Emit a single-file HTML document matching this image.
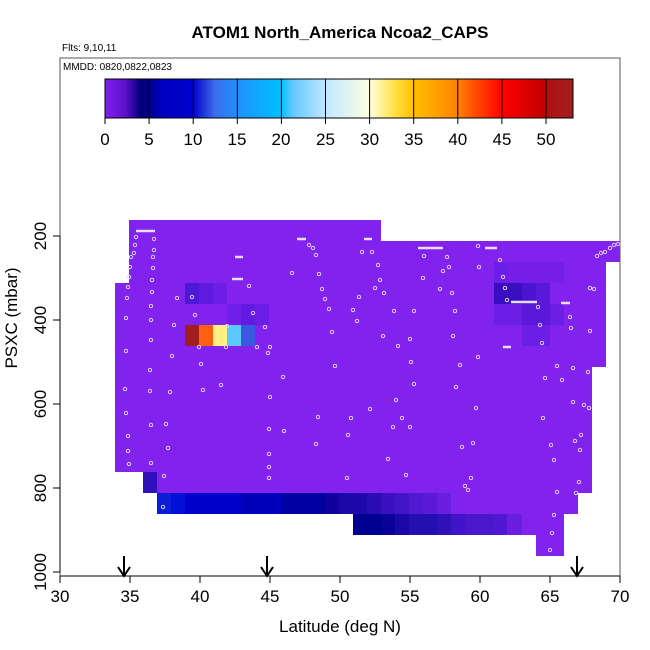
<!DOCTYPE html>
<html><head><meta charset="utf-8"><style>
html,body{margin:0;padding:0;background:#fff}
svg{display:block;font-family:"Liberation Sans",sans-serif}
</style></head><body>
<svg width="650" height="650" viewBox="0 0 650 650" xmlns="http://www.w3.org/2000/svg">
<defs>
<linearGradient id="cb" x1="105" x2="573" y1="0" y2="0" gradientUnits="userSpaceOnUse">
<stop offset="0" stop-color="#8020ee"/>
<stop offset="0.045" stop-color="#5a10c8"/>
<stop offset="0.075" stop-color="#00007a"/>
<stop offset="0.1" stop-color="#000090"/>
<stop offset="0.12" stop-color="#0000c0"/>
<stop offset="0.188" stop-color="#0000d0"/>
<stop offset="0.235" stop-color="#3c6ee8"/>
<stop offset="0.282" stop-color="#1e90ff"/>
<stop offset="0.376" stop-color="#00bfff"/>
<stop offset="0.4" stop-color="#60c8ff"/>
<stop offset="0.472" stop-color="#c0e8ff"/>
<stop offset="0.566" stop-color="#ffffe0"/>
<stop offset="0.62" stop-color="#ffe040"/>
<stop offset="0.66" stop-color="#ffc000"/>
<stop offset="0.755" stop-color="#ff8000"/>
<stop offset="0.8" stop-color="#ff4000"/>
<stop offset="0.85" stop-color="#ff0000"/>
<stop offset="0.94" stop-color="#c00000"/>
<stop offset="0.943" stop-color="#b01010"/>
<stop offset="1" stop-color="#a02020"/>
</linearGradient>
</defs>
<text x="340" y="38" font-size="17" font-weight="bold" text-anchor="middle">ATOM1 North_America Ncoa2_CAPS</text>
<text x="62" y="51" font-size="10">Flts: 9,10,11</text>
<rect x="60" y="58" width="560" height="518" fill="none" stroke="#555" stroke-width="1"/>
<text x="63" y="70" font-size="10">MMDD: 0820,0822,0823</text>
<rect x="105" y="79" width="468" height="39" fill="url(#cb)" stroke="#000" stroke-width="1"/>
<g stroke="#000" stroke-width="1">
<line x1="149.1" y1="79" x2="149.1" y2="124"/><line x1="193.2" y1="79" x2="193.2" y2="124"/><line x1="237.3" y1="79" x2="237.3" y2="124"/><line x1="281.4" y1="79" x2="281.4" y2="124"/><line x1="325.5" y1="79" x2="325.5" y2="124"/><line x1="369.6" y1="79" x2="369.6" y2="124"/><line x1="413.7" y1="79" x2="413.7" y2="124"/><line x1="457.8" y1="79" x2="457.8" y2="124"/><line x1="501.9" y1="79" x2="501.9" y2="124"/><line x1="546" y1="79" x2="546" y2="124"/><line x1="105" y1="118" x2="105" y2="124"/>
</g>
<g font-size="17" text-anchor="middle">
<text x="105" y="145">0</text><text x="149" y="145">5</text><text x="193" y="145">10</text><text x="237" y="145">15</text><text x="281" y="145">20</text><text x="325.5" y="145">25</text><text x="369.6" y="145">30</text><text x="413.7" y="145">35</text><text x="457.8" y="145">40</text><text x="502" y="145">45</text><text x="546" y="145">50</text>
</g>
<!-- main field -->
<path fill="#8222ed" d="M129,220 H381 V241 H620 V262 H606 V367 H592 V493 H578 V514 H564 V556 H536 V535 H353 V514 H157 V493 H143 V472 H115 V283 H129 Z"/>
<g shape-rendering="crispEdges">
<rect x="185" y="283" width="14" height="21" fill="#4c18d4"/><rect x="199" y="283" width="14" height="21" fill="#5e1ade"/><rect x="213" y="283" width="14" height="21" fill="#6c1ee6"/>
<rect x="227" y="304" width="14" height="21" fill="#701ee8"/><rect x="241" y="304" width="14" height="21" fill="#621ae0"/><rect x="255" y="304" width="14" height="21" fill="#6c1ee6"/>
<rect x="185" y="325" width="14" height="21" fill="#a01e1e"/><rect x="199" y="325" width="14" height="21" fill="#ff6010"/><rect x="213" y="325" width="14" height="21" fill="#fff080"/><rect x="227" y="325" width="14" height="21" fill="#5bc8ff"/><rect x="241" y="325" width="14" height="21" fill="#3a58e0"/>
<rect x="143" y="472" width="14" height="21" fill="#3010b8"/>
<rect x="157" y="493" width="14" height="21" fill="#0a1ed8"/><rect x="171" y="493" width="14" height="21" fill="#0010d8"/><rect x="185" y="493" width="56" height="21" fill="#0000cc"/><rect x="241" y="493" width="42" height="21" fill="#0000b8"/><rect x="283" y="493" width="42" height="21" fill="#0000a0"/><rect x="325" y="493" width="14" height="21" fill="#10009c"/><rect x="339" y="493" width="14" height="21" fill="#1a08a8"/><rect x="353" y="493" width="14" height="21" fill="#2008a8"/><rect x="367" y="493" width="14" height="21" fill="#2a0cb4"/><rect x="381" y="493" width="14" height="21" fill="#3a10c0"/><rect x="395" y="493" width="14" height="21" fill="#4414c8"/><rect x="409" y="493" width="14" height="21" fill="#5018d0"/><rect x="423" y="493" width="14" height="21" fill="#5c1ad8"/><rect x="437" y="493" width="14" height="21" fill="#6a1ee0"/>
<rect x="353" y="514" width="28" height="21" fill="#000090"/><rect x="381" y="514" width="14" height="21" fill="#0a0098"/><rect x="395" y="514" width="14" height="21" fill="#1a08a8"/><rect x="409" y="514" width="28" height="21" fill="#2410b0"/><rect x="437" y="514" width="14" height="21" fill="#3010b8"/><rect x="451" y="514" width="14" height="21" fill="#4014c8"/><rect x="465" y="514" width="28" height="21" fill="#4a18cc"/><rect x="493" y="514" width="14" height="21" fill="#5018d0"/><rect x="507" y="514" width="15" height="21" fill="#6a1ee0"/>
<rect x="494" y="262" width="14" height="21" fill="#6a1ee6"/><rect x="508" y="262" width="56" height="21" fill="#761ee8"/>
<rect x="494" y="283" width="14" height="21" fill="#3a0ec0"/><rect x="508" y="283" width="14" height="21" fill="#3810c0"/><rect x="522" y="283" width="14" height="21" fill="#4a14d0"/><rect x="536" y="283" width="14" height="21" fill="#5a18d8"/>
<rect x="494" y="304" width="28" height="21" fill="#6a1ee6"/><rect x="522" y="304" width="28" height="21" fill="#5a18d8"/><rect x="550" y="304" width="14" height="21" fill="#6a1ee6"/>
<rect x="522" y="325" width="28" height="21" fill="#6a1ee6"/>
</g>
<!-- sample points -->
<g fill="none" stroke="#e8dcff" stroke-width="0.9">
<line x1="136" y1="231" x2="155" y2="231" stroke-width="2.5"/><line x1="232" y1="279" x2="243" y2="279" stroke-width="2.5"/><line x1="418" y1="248" x2="443" y2="248" stroke-width="2.5"/><line x1="485" y1="248" x2="497" y2="248" stroke-width="2.5"/><line x1="511" y1="302" x2="537" y2="302" stroke-width="2.5"/><line x1="561" y1="303" x2="570" y2="303" stroke-width="2.5"/><line x1="297" y1="239" x2="306" y2="239" stroke-width="2.5"/><line x1="364" y1="239" x2="372" y2="239" stroke-width="2.5"/><line x1="235" y1="257" x2="243" y2="257" stroke-width="2.5"/><line x1="503" y1="347" x2="511" y2="347" stroke-width="2.5"/>
<circle cx="136" cy="237" r="1.7"/><circle cx="135" cy="245" r="1.7"/><circle cx="134" cy="253" r="1.7"/><circle cx="131" cy="257" r="1.7"/><circle cx="130" cy="267" r="1.7"/><circle cx="129" cy="277" r="1.7"/><circle cx="128" cy="287" r="1.7"/><circle cx="127" cy="298" r="1.7"/><circle cx="126" cy="318" r="1.7"/><circle cx="126" cy="351" r="1.7"/><circle cx="125" cy="389" r="1.7"/><circle cx="126" cy="413" r="1.7"/><circle cx="128" cy="436" r="1.7"/><circle cx="128" cy="451" r="1.7"/><circle cx="129" cy="464" r="1.7"/>
<circle cx="154" cy="239" r="1.7"/><circle cx="154" cy="250" r="1.7"/><circle cx="153" cy="257" r="1.7"/><circle cx="153" cy="268" r="1.7"/><circle cx="152" cy="280" r="1.7"/><circle cx="152" cy="292" r="1.7"/><circle cx="151" cy="306" r="1.7"/><circle cx="151" cy="320" r="1.7"/><circle cx="151" cy="340" r="1.7"/><circle cx="150" cy="370" r="1.7"/><circle cx="150" cy="391" r="1.7"/><circle cx="151" cy="425" r="1.7"/><circle cx="151" cy="463" r="1.7"/><circle cx="164" cy="476" r="1.7"/><circle cx="163" cy="507" r="1.7"/>
<circle cx="177" cy="298" r="1.7"/><circle cx="174" cy="325" r="1.7"/><circle cx="172" cy="356" r="1.7"/><circle cx="170" cy="392" r="1.7"/><circle cx="168" cy="448" r="1.7"/><circle cx="166" cy="424" r="1.7"/><circle cx="192" cy="297" r="1.7"/><circle cx="195" cy="315" r="1.7"/><circle cx="199" cy="347" r="1.7"/><circle cx="201" cy="364" r="1.7"/><circle cx="203" cy="390" r="1.7"/><circle cx="221" cy="385" r="1.7"/><circle cx="227" cy="326" r="1.7"/><circle cx="226" cy="347" r="1.7"/><circle cx="249" cy="286" r="1.7"/><circle cx="257" cy="347" r="1.7"/><circle cx="253" cy="313" r="1.7"/><circle cx="265" cy="327" r="1.7"/><circle cx="270" cy="347" r="1.7"/><circle cx="268" cy="353" r="1.7"/><circle cx="270" cy="397" r="1.7"/><circle cx="269" cy="429" r="1.7"/><circle cx="269" cy="454" r="1.7"/><circle cx="269" cy="467" r="1.7"/><circle cx="269" cy="478" r="1.7"/><circle cx="283" cy="377" r="1.7"/><circle cx="284" cy="431" r="1.7"/>
<circle cx="309" cy="245" r="1.7"/><circle cx="313" cy="248" r="1.7"/><circle cx="316" cy="255" r="1.7"/><circle cx="292" cy="273" r="1.7"/><circle cx="319" cy="274" r="1.7"/><circle cx="322" cy="289" r="1.7"/><circle cx="325" cy="299" r="1.7"/><circle cx="329" cy="309" r="1.7"/><circle cx="332" cy="332" r="1.7"/><circle cx="335" cy="366" r="1.7"/><circle cx="318" cy="417" r="1.7"/><circle cx="316" cy="444" r="1.7"/><circle cx="348" cy="435" r="1.7"/><circle cx="347" cy="478" r="1.7"/><circle cx="353" cy="310" r="1.7"/><circle cx="359" cy="297" r="1.7"/><circle cx="362" cy="252" r="1.7"/><circle cx="372" cy="252" r="1.7"/><circle cx="375" cy="288" r="1.7"/><circle cx="378" cy="265" r="1.7"/><circle cx="380" cy="280" r="1.7"/><circle cx="384" cy="293" r="1.7"/><circle cx="394" cy="311" r="1.7"/><circle cx="357" cy="321" r="1.7"/><circle cx="351" cy="418" r="1.7"/>
<circle cx="424" cy="256" r="1.7"/><circle cx="447" cy="257" r="1.7"/><circle cx="443" cy="271" r="1.7"/><circle cx="440" cy="289" r="1.7"/><circle cx="423" cy="278" r="1.7"/><circle cx="414" cy="311" r="1.7"/><circle cx="410" cy="339" r="1.7"/><circle cx="414" cy="384" r="1.7"/><circle cx="410" cy="427" r="1.7"/><circle cx="406" cy="475" r="1.7"/><circle cx="388" cy="459" r="1.7"/><circle cx="393" cy="427" r="1.7"/><circle cx="396" cy="400" r="1.7"/><circle cx="411" cy="362" r="1.7"/><circle cx="398" cy="346" r="1.7"/><circle cx="402" cy="418" r="1.7"/><circle cx="370" cy="409" r="1.7"/><circle cx="383" cy="336" r="1.7"/>
<circle cx="449" cy="267" r="1.7"/><circle cx="452" cy="293" r="1.7"/><circle cx="455" cy="311" r="1.7"/><circle cx="453" cy="336" r="1.7"/><circle cx="460" cy="365" r="1.7"/><circle cx="456" cy="387" r="1.7"/><circle cx="462" cy="447" r="1.7"/><circle cx="465" cy="486" r="1.7"/><circle cx="468" cy="490" r="1.7"/><circle cx="471" cy="478" r="1.7"/><circle cx="478" cy="246" r="1.7"/><circle cx="479" cy="267" r="1.7"/><circle cx="478" cy="357" r="1.7"/><circle cx="473" cy="443" r="1.7"/><circle cx="476" cy="408" r="1.7"/>
<circle cx="500" cy="260" r="1.7"/><circle cx="503" cy="277" r="1.7"/><circle cx="505" cy="288" r="1.7"/><circle cx="507" cy="300" r="1.7"/><circle cx="538" cy="307" r="1.7"/><circle cx="540" cy="325" r="1.7"/><circle cx="542" cy="343" r="1.7"/><circle cx="545" cy="378" r="1.7"/><circle cx="543" cy="418" r="1.7"/><circle cx="551" cy="445" r="1.7"/><circle cx="554" cy="460" r="1.7"/><circle cx="557" cy="492" r="1.7"/><circle cx="554" cy="515" r="1.7"/><circle cx="552" cy="533" r="1.7"/><circle cx="550" cy="550" r="1.7"/><circle cx="570" cy="317" r="1.7"/><circle cx="590" cy="288" r="1.7"/><circle cx="571" cy="328" r="1.7"/><circle cx="590" cy="331" r="1.7"/><circle cx="573" cy="368" r="1.7"/><circle cx="573" cy="402" r="1.7"/><circle cx="584" cy="405" r="1.7"/><circle cx="575" cy="441" r="1.7"/><circle cx="581" cy="435" r="1.7"/><circle cx="580" cy="450" r="1.7"/><circle cx="589" cy="408" r="1.7"/><circle cx="579" cy="482" r="1.7"/><circle cx="576" cy="493" r="1.7"/><circle cx="557" cy="366" r="1.7"/><circle cx="562" cy="380" r="1.7"/><circle cx="588" cy="372" r="1.7"/>
<circle cx="597" cy="256" r="1.7"/><circle cx="601" cy="253" r="1.7"/><circle cx="605" cy="252" r="1.7"/><circle cx="610" cy="248" r="1.7"/><circle cx="614" cy="245" r="1.7"/><circle cx="618" cy="244" r="1.7"/><circle cx="594" cy="289" r="1.7"/>
</g>
<!-- arrows -->
<g stroke="#000" stroke-width="2" fill="none">
<line x1="124" y1="556" x2="124" y2="576"/><polyline points="118,567 124,576 130,567"/>
<line x1="267" y1="556" x2="267" y2="576"/><polyline points="261,567 267,576 273,567"/>
<line x1="577" y1="556" x2="577" y2="576"/><polyline points="571,567 577,576 583,567"/>
</g>
<!-- axes -->
<g stroke="#000" stroke-width="1">
<line x1="60" y1="576" x2="620" y2="576"/>
<line x1="60" y1="576" x2="60" y2="583"/><line x1="130" y1="576" x2="130" y2="583"/><line x1="200" y1="576" x2="200" y2="583"/><line x1="270" y1="576" x2="270" y2="583"/><line x1="340" y1="576" x2="340" y2="583"/><line x1="410" y1="576" x2="410" y2="583"/><line x1="480" y1="576" x2="480" y2="583"/><line x1="550" y1="576" x2="550" y2="583"/><line x1="620" y1="576" x2="620" y2="583"/>
<line x1="60" y1="236" x2="60" y2="572"/>
<line x1="53" y1="236" x2="60" y2="236"/><line x1="53" y1="320" x2="60" y2="320"/><line x1="53" y1="404" x2="60" y2="404"/><line x1="53" y1="488" x2="60" y2="488"/><line x1="53" y1="572" x2="60" y2="572"/>
</g>
<g font-size="17" text-anchor="middle">
<text x="60" y="602">30</text><text x="130" y="602">35</text><text x="200" y="602">40</text><text x="270" y="602">45</text><text x="340" y="602">50</text><text x="410" y="602">55</text><text x="480" y="602">60</text><text x="550" y="602">65</text><text x="620" y="602">70</text>
<text transform="translate(46,236) rotate(-90)">200</text><text transform="translate(46,320) rotate(-90)">400</text><text transform="translate(46,404) rotate(-90)">600</text><text transform="translate(46,488) rotate(-90)">800</text><text transform="translate(46,572) rotate(-90)">1000</text>
<text x="340" y="632">Latitude (deg N)</text>
<text transform="translate(17,318) rotate(-90)">PSXC (mbar)</text>
</g>
</svg>
</body></html>
